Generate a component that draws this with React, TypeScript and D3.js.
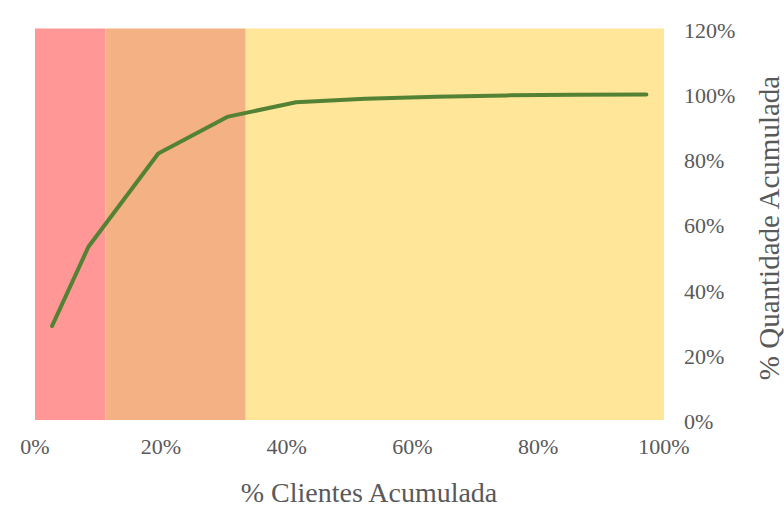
import React from "react";
import * as d3 from "d3";

// Cumulative share of customers (x) vs cumulative quantity (y), in percent
const clientesAcumulada = [2.7, 8.5, 19.6, 30.7, 41.5, 52.5, 63.8, 75, 86, 97.2];
const quantidadeAcumulada = [28.8, 53.1, 81.7, 93.0, 97.4, 98.5, 99.1, 99.5, 99.7, 99.8];

// ABC class bands along the x axis
const bandLabels = ["A", "B", "C"];
const bandStarts = [0, 11.2, 33.5];
const bandEnds = [11.2, 33.5, 100];
const bandColors = ["#FF9797", "#F4B183", "#FFE699"];

const xTicks = [0, 20, 40, 60, 80, 100];
const yTicks = [0, 20, 40, 60, 80, 100, 120];

const xTitle = "% Clientes Acumulada";
const yTitle = "% Quantidade Acumulada";

const W = 784;
const H = 507;
const margin = { left: 35, right: 120, top: 28.5, bottom: 87 };

export default function App() {
  const x = d3.scaleLinear().domain([0, 100]).range([margin.left, W - margin.right]);
  const y = d3.scaleLinear().domain([0, 120]).range([H - margin.bottom, margin.top]);

  const pts = clientesAcumulada.map((c, i) => [c, quantidadeAcumulada[i]] as [number, number]);
  const line = d3
    .line<[number, number]>()
    .x((d) => x(d[0]))
    .y((d) => y(d[1]));

  const font = "'Times New Roman', Times, 'Liberation Serif', 'DejaVu Serif', serif";
  const textColor = "#595959";

  return (
    <svg
      width={W}
      height={H}
      style={{ position: "absolute", left: 0, top: 0, background: "#fff", fontFamily: font }}
    >
      <g>
        {bandLabels.map((b, i) => (
          <rect
            key={b}
            x={x(bandStarts[i])}
            y={y(120)}
            width={x(bandEnds[i]) - x(bandStarts[i])}
            height={y(0) - y(120)}
            fill={bandColors[i]}
          />
        ))}
      </g>
      <path
        d={line(pts) ?? ""}
        fill="none"
        stroke="#548235"
        strokeWidth={4}
        strokeLinejoin="round"
        strokeLinecap="round"
      />
      <g fill={textColor} style={{ fontSize: 22, fontFamily: font }}>
        {xTicks.map((t) => (
          <text key={t} x={x(t)} y={454} textAnchor="middle">
            {t}%
          </text>
        ))}
        {yTicks.map((t) => (
          <text key={t} x={684} y={y(t) + 9} textAnchor="start">
            {t}%
          </text>
        ))}
      </g>
      <text
        x={369}
        y={502}
        textAnchor="middle"
        fill={textColor}
        style={{ fontSize: 28, fontFamily: font }}
      >
        {xTitle}
      </text>
      <text
        transform={`translate(779, 228) rotate(-90)`}
        textAnchor="middle"
        fill={textColor}
        style={{ fontSize: 29, fontFamily: font }}
      >
        {yTitle}
      </text>
    </svg>
  );
}
